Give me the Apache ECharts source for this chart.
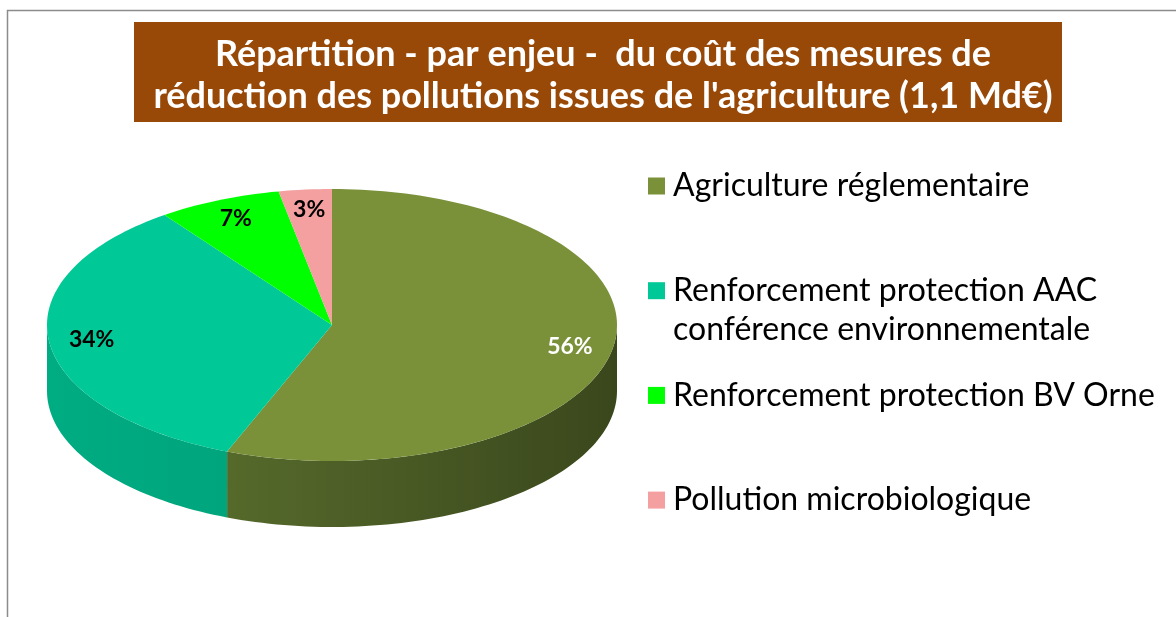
<!DOCTYPE html>
<html>
<head>
<meta charset="utf-8">
<title>Répartition par enjeu</title>
<script src="https://cdn.jsdelivr.net/npm/echarts@6/dist/echarts.min.js"></script>
<style>
  html, body { margin: 0; padding: 0; background: #fff; }
  #chart { width: 1176px; height: 617px; }
</style>
</head>
<body>
<div id="chart"></div>
<script>
const categories = [
  'Agriculture réglementaire',
  'Renforcement protection AAC\nconférence environnementale',
  'Renforcement protection BV Orne',
  'Pollution microbiologique'
];
const values = [56, 34, 7, 3];
const percentLabels = ['56%', '34%', '7%', '3%'];

const topColors = ['#7A913A', '#00C896', '#00FF00', '#F4A0A0'];
const wallColors = [['#627932', '#3A471C'], ['#00AC82', '#009670'], ['#00C800', '#00B000'], ['#C88080', '#B07070']];
const labelColors = ['#FFFFFF', '#000000', '#000000', '#000000'];

const DEPTH = 0.485;   // wall height, in units of the vertical radius
const LABEL_R = 0.85;  // label distance from centre

const total = values.reduce((a, b) => a + b, 0);
const starts = [];
let acc = 0;
values.forEach(v => { starts.push(acc / total); acc += v; });

// point on the rim at a fraction of the turn (clockwise from 12 o'clock)
function pt(api, frac, r, drop) {
  const a = frac * Math.PI * 2;
  return api.coord([r * Math.sin(a), r * Math.cos(a) - (drop || 0)]);
}

function renderSlice(i) {
  return function (params, api) {
    const s = api.value(0), e = api.value(1);
    const children = [];

    // visible wall: front half of the rim
    const ws = Math.max(s, 0.25), we = Math.min(e, 0.75);
    if (we > ws) {
      const m = Math.max(2, Math.ceil((we - ws) * 240));
      const up = [], down = [];
      for (let k = 0; k <= m; k++) {
        const f = ws + (we - ws) * k / m;
        up.push(pt(api, f, 1));
        down.push(pt(api, f, 1, DEPTH));
      }
      const x0 = api.coord([-1, 0])[0], x1 = api.coord([1, 0])[0];
      children.push({
        type: 'polygon',
        shape: { points: up.concat(down.reverse()) },
        style: {
          fill: {
            type: 'linear', x: x0, y: 0, x2: x1, y2: 0, global: true,
            colorStops: [{ offset: 0, color: wallColors[i][0] }, { offset: 1, color: wallColors[i][1] }]
          }
        }
      });
    }

    const n = Math.max(2, Math.ceil((e - s) * 240));
    const top = [api.coord([0, 0])];
    for (let k = 0; k <= n; k++) top.push(pt(api, s + (e - s) * k / n, 1));
    children.push({ type: 'polygon', shape: { points: top }, style: { fill: topColors[i] } });

    const lp = pt(api, (s + e) / 2, LABEL_R);
    children.push({
      type: 'text', x: lp[0], y: lp[1], z2: 10,
      style: {
        text: percentLabels[i], fill: labelColors[i],
        font: 'bold 23px Lato', align: 'center', verticalAlign: 'middle'
      }
    });
    return { type: 'group', children: children };
  };
}

const chart = echarts.init(document.getElementById('chart'));

const series = categories.map((name, i) => ({
  type: 'custom',
  name: name,
  coordinateSystem: 'cartesian2d',
  clip: false,
  z: 2 + i,
  itemStyle: { color: topColors[i] },
  data: [[starts[i], starts[i] + values[i] / total]],
  renderItem: renderSlice(i)
}));

chart.setOption({
  animation: false,
  backgroundColor: '#ffffff',
  title: {
    text: 'Répartition - par enjeu -  du coût des mesures de\nréduction des pollutions issues de l\'agriculture (1,1 Md€)',
    left: 598,
    top: 28,
    textAlign: 'center',
    textStyle: {
      color: '#ffffff',
      fontFamily: 'Lato',
      fontWeight: 'bold',
      fontSize: 36,
      lineHeight: 42
    }
  },
  graphic: [
    {
      type: 'rect', z: -1,
      shape: { x: 7.5, y: 10.5, width: 1200, height: 700 },
      style: { fill: 'none', stroke: '#8C8C8C', lineWidth: 1.5 }
    },
    {
      type: 'rect', z: -1,
      shape: { x: 134, y: 22, width: 928, height: 100 },
      style: { fill: '#984807' }
    },
    {
      type: 'text',
      x: 673, y: 330,
      style: {
        text: categories[1].split('\n')[1],
        font: '32px Lato', fill: '#000000', verticalAlign: 'middle'
      }
    }
  ],
  legend: {
    orient: 'vertical',
    left: 643,
    top: 162,
    itemGap: 66.7,
    itemWidth: 17,
    itemHeight: 17,
    icon: 'rect',
    selectedMode: false,
    data: categories,
    formatter: name => name.split('\n')[0],
    textStyle: {
      fontFamily: 'Lato',
      fontSize: 32,
      color: '#000000',
      lineHeight: 38,
      padding: [0, 0, 0, 3]
    }
  },
  grid: { left: 47, right: 559, top: 189, bottom: 90 },
  xAxis: { type: 'value', min: -1, max: 1, show: false },
  yAxis: { type: 'value', min: -1 - DEPTH, max: 1, show: false },
  series: series
});
</script>
</body>
</html>
